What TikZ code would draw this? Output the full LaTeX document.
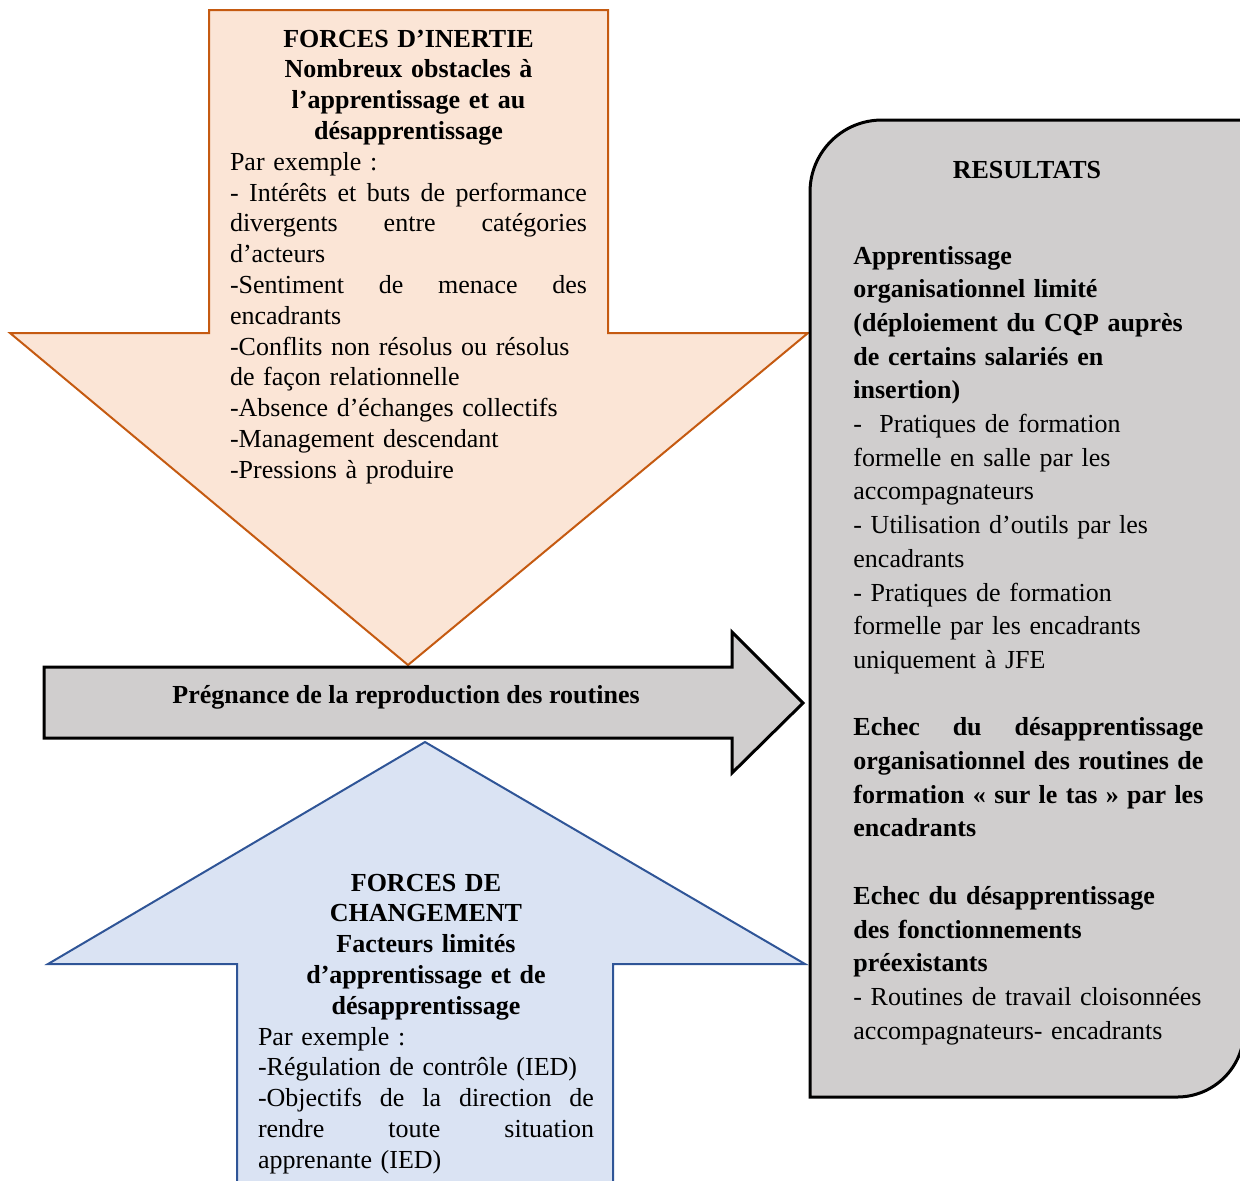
\documentclass[tikz,border=0pt]{standalone}
\usepackage{fontspec}
\setmainfont{Liberation Serif}
\usepackage{xcolor}
\usepackage{tikz}
\usetikzlibrary{positioning}

\definecolor{inertiafill}{HTML}{FBE5D6}
\definecolor{inertiadraw}{HTML}{C55A11}
\definecolor{changefill}{HTML}{DAE3F3}
\definecolor{changedraw}{HTML}{2F5597}
\definecolor{flowfill}{HTML}{D0CECE}
\newcommand{\jline}[1]{{\spaceskip=0pt\xspaceskip=0pt\makebox[\hsize][s]{#1}}}
\hyphenpenalty=10000
\exhyphenpenalty=10000
\hbadness=10000

\begin{document}
\begin{tikzpicture}[x=0.5pt, y=-0.5pt,
        inertia/.style={fill=inertiafill, draw=inertiadraw, line width=1pt},
        change/.style={fill=changefill, draw=changedraw, line width=1pt},
        flow/.style={fill=flowfill, draw=black, line width=1.5pt},
        txt/.style={inner sep=0pt, font=\fontsize{13}{15.4}\selectfont},
        restxt/.style={inner sep=0pt, font=\fontsize{13}{16.85}\selectfont}
    ]
        \clip (0,0) rectangle (1240,1180);
        % arrows
        \draw[inertia] (209,10) -- (608,10) -- (608,333) -- (808,333) -- (408,665)
            -- (10,333) -- (209,333) -- cycle;
        \draw[flow] (44,667) -- (732,667) -- (732,632) -- (803,703) -- (732,773)
            -- (732,738) -- (44,738) -- cycle;
        \draw[change] (237,1200) -- (237,964) -- (48,964) -- (425,742) -- (805,964)
            -- (613,964) -- (613,1200) -- cycle;
        % results box
        \draw[flow] (810,1097) -- (810,192) .. controls (810,152.2) and (842.2,120) .. (882,120)
            -- (1244,120) -- (1244,1030) .. controls (1244,1067) and (1214,1097) .. (1177,1097)
            -- cycle;

        \node[txt, text width=178.5pt, anchor=base] (inertie) at (408.5,47) {%
            {\centering\bfseries FORCES D’INERTIE\\
            Nombreux obstacles à\\
            l’apprentissage et au\\
            désapprentissage\par}
            Par exemple :\\
            \jline{- Intérêts et buts de performance}\\
            \jline{divergents entre catégories}\\
            d’acteurs\\
            \jline{-Sentiment de menace des}\\
            encadrants\\
            -Conflits non résolus ou résolus\\
            de façon relationnelle\\
            -Absence d’échanges collectifs\\
            -Management descendant\\
            -Pressions à produire};
        \node[txt, font=\fontsize{13}{15.4}\selectfont\bfseries, anchor=base] (pregnance) at (406,703)
            {Prégnance de la reproduction des routines};
        \node[txt, text width=168pt, anchor=base] (changement) at (426,891) {%
            {\centering\bfseries FORCES DE\\
            CHANGEMENT\\
            Facteurs limités\\
            d’apprentissage et de\\
            désapprentissage\par}
            Par exemple :\\
            -Régulation de contrôle (IED)\\
            \jline{-Objectifs de la direction de}\\
            \jline{rendre toute situation}\\
            apprenante (IED)};
        \node[restxt, font=\fontsize{13}{16.85}\selectfont\bfseries] (resultats) at (1027,170) {RESULTATS};
        \node[restxt, text width=175pt, anchor=base west] (apprentissage) at (853,264) {%
            \textbf{Apprentissage\\
            organisationnel limité\\
            (déploiement du CQP auprès\\
            de certains salariés en\\
            insertion)}\\
            -~ Pratiques de formation\\
            formelle en salle par les\\
            accompagnateurs\\
            - Utilisation d’outils par les\\
            encadrants\\
            - Pratiques de formation\\
            formelle par les encadrants\\
            uniquement à JFE\\[16.85pt]
            \textbf{\jline{Echec du désapprentissage}\\
            \jline{organisationnel des routines de}\\
            \jline{formation «~sur le tas~» par les}\\
            encadrants}\\[16.85pt]
            \textbf{Echec du désapprentissage\\
            des fonctionnements\\
            préexistants}\\
            - Routines de travail cloisonnées\\
            accompagnateurs- encadrants};
    \end{tikzpicture}
\end{document}
